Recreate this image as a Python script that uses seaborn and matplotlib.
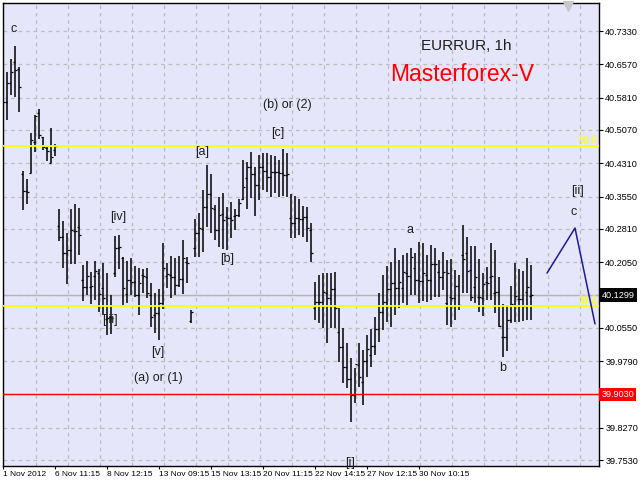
import numpy as np
import pandas as pd
import matplotlib
matplotlib.use("Agg")
import matplotlib.pyplot as plt
import matplotlib.transforms as mtransforms
import seaborn as sns

# EURRUR bars (price units)
bar_open = [40.587, 40.571, 40.614, 40.662, 40.646, 40.406, 40.368, 40.409, 40.479, 40.546,
            40.491, 40.466, 40.431, 40.461, 40.288, 40.262, 40.226, 40.233, 40.276, 40.285,
            40.164, 40.148, 40.148, 40.173, 40.180, 40.146, 40.075, 40.080, 40.180, 40.237,
            40.214, 40.132, 40.164, 40.160, 40.130, 40.176, 40.171, 40.130, 40.084, 40.089,
            40.112, 40.173, 40.176, 40.171, 40.153, 40.167, 40.205, 40.071, 40.237, 40.272,
            40.281, 40.331, 40.361, 40.326, 40.278, 40.315, 40.308, 40.306, 40.310, 40.313,
            40.349, 40.397, 40.422, 40.406, 40.381, 40.422, 40.413, 40.400, 40.411, 40.411,
            40.409, 40.404, 40.306, 40.294, 40.306, 40.304, 40.308, 40.278, 40.100, 40.114,
            40.114, 40.135, 40.123, 40.144, 40.045, 40.011, 39.966, 39.938, 39.902, 39.970,
            39.931, 39.979, 39.993, 40.013, 40.052, 40.091, 40.114, 40.144, 40.157, 40.146,
            40.146, 40.180, 40.173, 40.192, 40.164, 40.162, 40.176, 40.164, 40.201, 40.183,
            40.171, 40.112, 40.125, 40.123, 40.151, 40.221, 40.226, 40.187, 40.148, 40.125,
            40.123, 40.160, 40.171, 40.135, 40.137, 40.034, 40.034, 40.073, 40.107, 40.121,
            40.121, 40.137, 40.128]
bar_high = [40.603, 40.639, 40.669, 40.699, 40.651, 40.413, 40.395, 40.500, 40.541, 40.555,
            40.491, 40.468, 40.511, 40.475, 40.326, 40.299, 40.272, 40.326, 40.338, 40.329,
            40.198, 40.208, 40.183, 40.208, 40.189, 40.203, 40.180, 40.130, 40.265, 40.267,
            40.217, 40.208, 40.214, 40.196, 40.192, 40.189, 40.192, 40.157, 40.135, 40.144,
            40.249, 40.203, 40.219, 40.214, 40.219, 40.256, 40.217, 40.096, 40.304, 40.317,
            40.370, 40.427, 40.406, 40.336, 40.354, 40.363, 40.331, 40.342, 40.326, 40.349,
            40.438, 40.434, 40.457, 40.422, 40.450, 40.454, 40.454, 40.450, 40.447, 40.438,
            40.463, 40.454, 40.361, 40.356, 40.349, 40.333, 40.331, 40.294, 40.160, 40.176,
            40.180, 40.180, 40.180, 40.183, 40.100, 40.055, 40.020, 39.986, 39.963, 40.020,
            40.004, 40.039, 40.052, 40.080, 40.135, 40.176, 40.196, 40.205, 40.237, 40.210,
            40.221, 40.226, 40.237, 40.226, 40.251, 40.249, 40.221, 40.244, 40.237, 40.210,
            40.228, 40.210, 40.212, 40.187, 40.176, 40.290, 40.262, 40.242, 40.242, 40.212,
            40.180, 40.194, 40.249, 40.233, 40.171, 40.109, 40.107, 40.151, 40.203, 40.189,
            40.185, 40.214, 40.198]
bar_low = [40.507, 40.530, 40.587, 40.582, 40.548, 40.324, 40.338, 40.409, 40.457, 40.486,
           40.461, 40.436, 40.431, 40.447, 40.253, 40.192, 40.155, 40.201, 40.201, 40.221,
           40.116, 40.130, 40.109, 40.119, 40.091, 40.084, 40.039, 40.041, 40.171, 40.189,
           40.107, 40.112, 40.130, 40.125, 40.084, 40.135, 40.123, 40.057, 40.043, 40.027,
           40.098, 40.146, 40.123, 40.130, 40.148, 40.132, 40.157, 40.066, 40.217, 40.217,
           40.228, 40.285, 40.272, 40.256, 40.240, 40.235, 40.233, 40.260, 40.278, 40.308,
           40.347, 40.326, 40.352, 40.310, 40.347, 40.370, 40.365, 40.354, 40.363, 40.354,
           40.356, 40.354, 40.260, 40.260, 40.267, 40.262, 40.251, 40.205, 40.073, 40.066,
           40.055, 40.020, 40.055, 40.055, 39.977, 39.929, 39.918, 39.840, 39.883, 39.920,
           39.879, 39.943, 39.966, 39.993, 40.023, 40.050, 40.068, 40.057, 40.084, 40.100,
           40.112, 40.107, 40.130, 40.130, 40.112, 40.116, 40.114, 40.119, 40.125, 40.125,
           40.141, 40.061, 40.057, 40.073, 40.096, 40.135, 40.135, 40.116, 40.112, 40.091,
           40.082, 40.119, 40.119, 40.089, 40.057, 39.988, 40.002, 40.066, 40.068, 40.068,
           40.071, 40.073, 40.073]
bar_close = [40.571, 40.614, 40.639, 40.644, 40.605, 40.368, 40.365, 40.484, 40.539, 40.495,
             40.468, 40.459, 40.445, 40.470, 40.262, 40.226, 40.233, 40.278, 40.276, 40.267,
             40.148, 40.173, 40.151, 40.185, 40.132, 40.123, 40.077, 40.077, 40.237, 40.240,
             40.146, 40.164, 40.160, 40.130, 40.157, 40.173, 40.135, 40.080, 40.089, 40.112,
             40.192, 40.178, 40.171, 40.153, 40.167, 40.214, 40.203, 40.091, 40.272, 40.283,
             40.331, 40.361, 40.329, 40.278, 40.313, 40.301, 40.306, 40.301, 40.313, 40.340,
             40.377, 40.422, 40.406, 40.381, 40.422, 40.413, 40.400, 40.411, 40.411, 40.409,
             40.404, 40.406, 40.294, 40.306, 40.304, 40.308, 40.283, 40.226, 40.114, 40.114,
             40.137, 40.123, 40.144, 40.100, 40.011, 39.966, 39.938, 39.902, 39.972, 39.943,
             39.979, 40.007, 40.013, 40.052, 40.091, 40.114, 40.144, 40.157, 40.146, 40.160,
             40.183, 40.173, 40.217, 40.164, 40.162, 40.180, 40.164, 40.201, 40.201, 40.171,
             40.183, 40.180, 40.123, 40.151, 40.107, 40.212, 40.185, 40.125, 40.171, 40.125,
             40.155, 40.157, 40.173, 40.137, 40.059, 40.034, 40.073, 40.109, 40.128, 40.121,
             40.105, 40.148, 40.1299]

date_labels = ["1 Nov 2012", "6 Nov 11:15", "8 Nov 12:15", "13 Nov 09:15", "15 Nov 13:15",
               "20 Nov 11:15", "22 Nov 14:15", "27 Nov 12:15", "30 Nov 10:15"]
price_ticks = [40.7330, 40.6570, 40.5810, 40.5070, 40.4310, 40.3550, 40.2810, 40.2050,
               40.1299, 40.0550, 39.9790, 39.9030, 39.8270, 39.7530]

# levels and the projected wave
fib_50 = 40.470
fib_382 = 40.105
stop_level = 39.9030
last_price = 40.1299
wave_x = [136, 143, 148]
wave_y = [40.180, 40.283, 40.064]

# wave counts: (text, bar, price)
wave_labels = [("c", 2.75, 40.737), ("[iv]", 28.75, 40.308), ("[iii]", 26.75, 40.073),
               ("[v]", 38.75, 40.000), ("(a) or (1)", 38.75, 39.940), ("[a]", 49.75, 40.457),
               ("[b]", 56, 40.212), ("(b) or (2)", 71, 40.564), ("[c]", 68.75, 40.500),
               ("a", 101.75, 40.278), ("[i]", 86.75, 39.746), ("b", 125, 39.963),
               ("[ii]", 143.75, 40.368), ("c", 142.75, 40.320)]

df = pd.DataFrame({"open": bar_open, "high": bar_high, "low": bar_low, "close": bar_close})
df["bar"] = np.arange(len(df))

sns.set_theme(style="white")
plt.rcParams["font.family"] = ["Liberation Sans", "DejaVu Sans"]

fig = plt.figure(figsize=(6.4, 4.8), dpi=100, facecolor="white")
ax = fig.add_axes([3 / 640, 14 / 480, 596 / 640, 463 / 480])
ax.set_facecolor("#E6E6FA")

ax.set_xlim(0, 149)
ax.set_ylim(39.7394, 40.797)

# dashed grid
grid_kw = dict(color="#BDBDBD", lw=0.9, ls=(0, (3, 3)), zorder=0)
for p in price_ticks:
    ax.axhline(p, **grid_kw)
for gx in np.arange(8.25, 149, 8):
    ax.axvline(gx, **grid_kw)

ax.axhline(last_price, color="#B4B4B4", lw=1, zorder=1)

# OHLC bars
ax.vlines(df["bar"], df["low"], df["high"], color="black", lw=1.1, zorder=2)
ax.hlines(df["open"], df["bar"] - 0.5, df["bar"], color="black", lw=0.9, zorder=2)
ax.hlines(df["close"], df["bar"], df["bar"] + 0.5, color="black", lw=0.9, zorder=2)

ax.axhline(fib_50, color="#FFFF00", lw=1.3, zorder=3)
ax.axhline(fib_382, color="#FFFF00", lw=1.3, zorder=3)
ax.axhline(stop_level, color="#FF0000", lw=1, zorder=3)
ax.text(148.6, fib_50 + 0.003, "50.0", color="#FFFF00", fontsize=7, ha="right", va="bottom")
ax.text(148.6, fib_382 + 0.003, "38.2", color="#FFFF00", fontsize=7, ha="right", va="bottom")

sns.lineplot(x=wave_x, y=wave_y, ax=ax, color="#1A1A96", lw=1.1, zorder=4)

for txt, bx, by in wave_labels:
    ax.text(bx, by, txt, fontsize=9, color="#1E1E1E", ha="center", va="center")

ax.text(115.75, 40.699, "EURRUR, 1h", fontsize=11, color="#1E1E1E", ha="center", va="center")
ax.text(114.75, 40.633, "Masterforex-V", fontsize=16.5, color="#FF0000", ha="center", va="center")

# chart shift marker
ax.plot([141.25], [40.790], marker="v", color="#C8C8C8", markersize=7, clip_on=False, zorder=5)

# axes
ax.yaxis.tick_right()
ax.set_yticks(price_ticks)
ax.set_yticklabels(["" if p in (last_price, stop_level) else f"{p:.4f}" for p in price_ticks])
ax.set_xticks(np.arange(0, 13 * len(date_labels), 13))
ax.set_xticklabels(date_labels, ha="left")
ax.tick_params(axis="y", which="both", right=True, length=3, width=0.8, pad=1.5,
               labelsize=6.6, colors="black")
ax.tick_params(axis="x", which="both", bottom=True, length=2.5, width=0.8, pad=0.8,
               labelsize=6, colors="black")
for s in ax.spines.values():
    s.set_color("black")
    s.set_linewidth(1)

trans = mtransforms.blended_transform_factory(ax.transAxes, ax.transData)
ax.text(1.004, last_price, "40.1299", transform=trans, fontsize=6.6, color="white",
        va="center", ha="left", bbox=dict(boxstyle="square,pad=0.25", fc="black", ec="none"))
ax.text(1.004, stop_level, "39.9030", transform=trans, fontsize=6.6, color="white",
        va="center", ha="left", bbox=dict(boxstyle="square,pad=0.25", fc="#FF0000", ec="none"))

ax.set_xlabel("")
ax.set_ylabel("")
fig.savefig("out.png", dpi=100, facecolor="white")
